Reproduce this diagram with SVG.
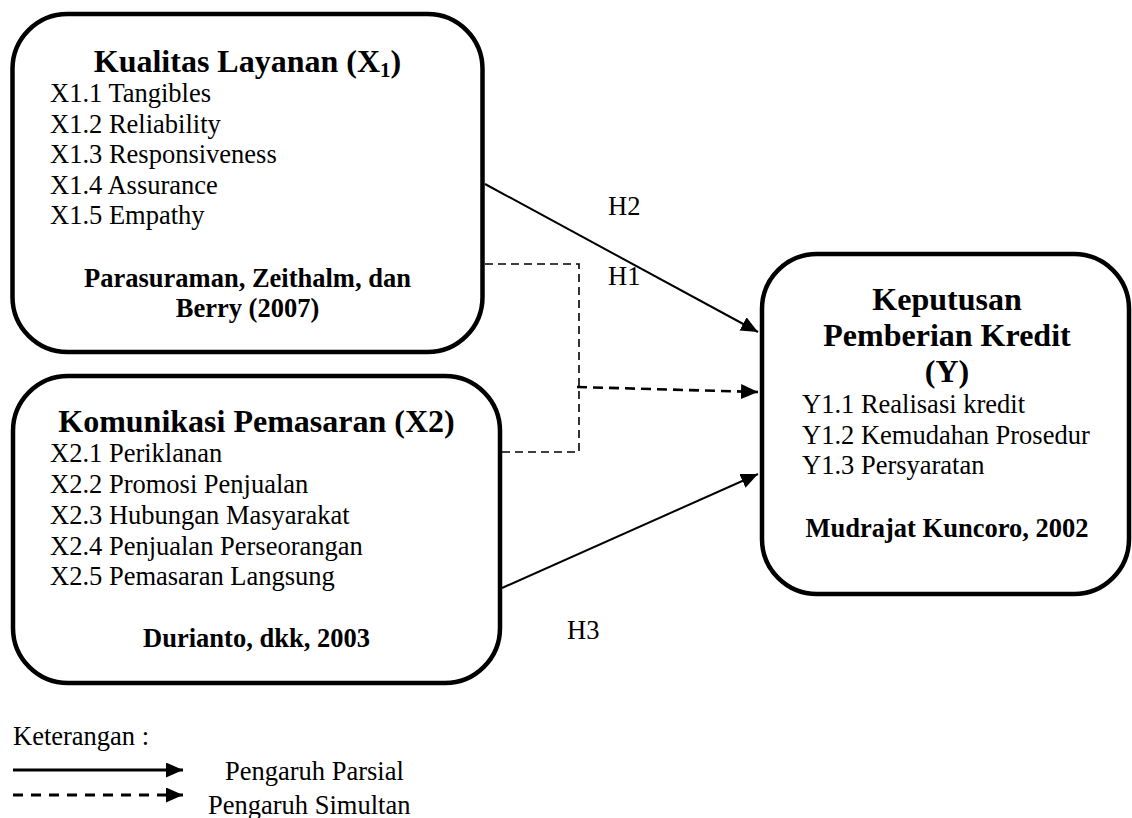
<svg xmlns="http://www.w3.org/2000/svg" width="1132" height="818" viewBox="0 0 1132 818">
<style>
.box{fill:#fff;stroke:#000;stroke-width:4.5}
.t{font-family:"Liberation Serif","Times New Roman",serif;fill:#000}
.title{font-size:32px;font-weight:bold;text-anchor:middle}
.item{font-size:26.5px}
.cite{font-size:26.5px;font-weight:bold;text-anchor:middle}
.solid{fill:none;stroke:#000;stroke-width:2}
.dthin{fill:none;stroke:#000;stroke-width:1.6;stroke-dasharray:8 5}
.dthick{fill:none;stroke:#000;stroke-width:2.6;stroke-dasharray:10 6}
</style>
<defs>
<marker id="ah" markerUnits="userSpaceOnUse" markerWidth="18" markerHeight="16" refX="17" refY="7.5" orient="auto">
<path d="M0,0 L17,7.5 L0,15 z" fill="#000"/>
</marker>
</defs>
<rect width="1132" height="818" fill="#fff"/>
<g id="node-x1">
<rect class="box" x="12.5" y="14" width="470" height="338" rx="55"/>
<text class="t title" x="247.5" y="72">Kualitas Layanan (X<tspan font-size="21" dy="5">1</tspan><tspan dy="-5">)</tspan></text>
<text class="t item" x="50" y="102">X1.1 Tangibles</text>
<text class="t item" x="50" y="132.5">X1.2 Reliability</text>
<text class="t item" x="50" y="163">X1.3 Responsiveness</text>
<text class="t item" x="50" y="193.5">X1.4 Assurance</text>
<text class="t item" x="50" y="224">X1.5 Empathy</text>
<text class="t cite" x="247.5" y="287">Parasuraman, Zeithalm, dan</text>
<text class="t cite" x="247.5" y="317">Berry (2007)</text>
</g>
<g id="node-x2">
<rect class="box" x="13" y="376" width="487" height="307" rx="55"/>
<text class="t title" x="256.5" y="432">Komunikasi Pemasaran (X2)</text>
<text class="t item" x="50" y="462">X2.1 Periklanan</text>
<text class="t item" x="50" y="493">X2.2 Promosi Penjualan</text>
<text class="t item" x="50" y="524">X2.3 Hubungan Masyarakat</text>
<text class="t item" x="50" y="555">X2.4 Penjualan Perseorangan</text>
<text class="t item" x="50" y="585">X2.5 Pemasaran Langsung</text>
<text class="t cite" x="256.5" y="647">Durianto, dkk, 2003</text>
</g>
<g id="node-y">
<rect class="box" x="762" y="254" width="367" height="340" rx="55"/>
<text class="t title" x="947" y="310">Keputusan</text>
<text class="t title" x="947" y="346">Pemberian Kredit</text>
<text class="t title" x="947" y="382">(Y)</text>
<text class="t item" x="802" y="413">Y1.1 Realisasi kredit</text>
<text class="t item" x="802" y="444">Y1.2 Kemudahan Prosedur</text>
<text class="t item" x="802" y="474">Y1.3 Persyaratan</text>
<text class="t cite" x="947" y="537">Mudrajat Kuncoro, 2002</text>
</g>
<g id="connectors">
<line class="solid" x1="485" y1="184" x2="758" y2="332" marker-end="url(#ah)"/>
<line class="solid" x1="502" y1="588" x2="758" y2="474" marker-end="url(#ah)"/>
<path class="dthin" d="M485,264 H579 V452 H502"/>
<line class="dthick" x1="577" y1="387" x2="758" y2="392" marker-end="url(#ah)"/>
<text class="t item" x="608" y="215">H2</text>
<text class="t item" x="608" y="285">H1</text>
<text class="t item" x="567" y="639">H3</text>
</g>
<g id="legend">
<text class="t item" x="13" y="745">Keterangan :</text>
<line x1="13" y1="770" x2="183" y2="770" stroke="#000" stroke-width="3" marker-end="url(#ah)"/>
<text class="t item" x="225" y="780">Pengaruh Parsial</text>
<line x1="13" y1="795" x2="183" y2="795" stroke="#000" stroke-width="3" stroke-dasharray="10 8" marker-end="url(#ah)"/>
<text class="t item" x="208" y="814">Pengaruh Simultan</text>
</g>
</svg>
